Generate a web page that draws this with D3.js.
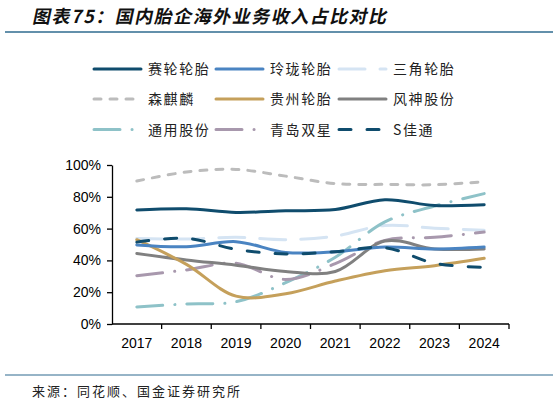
<!DOCTYPE html>
<html>
<head>
<meta charset="utf-8">
<script src="https://cdn.jsdelivr.net/npm/d3@7"></script>
<style>
  body { margin: 0; background: #fff; }
  svg { display: block; }
</style>
</head>
<body>
<div id="chart-area"></div>
<script>
const WIDTH = 559;
const HEIGHT = 403;

// data
const years = ["2017", "2018", "2019", "2020", "2021", "2022", "2023", "2024"];
const seriesNames = ["赛轮轮胎", "玲珑轮胎", "三角轮胎", "森麒麟", "贵州轮胎", "风神股份", "通用股份", "青岛双星", "S佳通"];
const sailun    = [0.717, 0.725, 0.702, 0.712, 0.72, 0.782, 0.745, 0.75];
const linglong  = [0.497, 0.486, 0.518, 0.45, 0.455, 0.484, 0.472, 0.484];
const sanjiao   = [0.538, 0.534, 0.545, 0.53, 0.553, 0.62, 0.602, 0.59];
const senqilin  = [0.899, 0.956, 0.972, 0.93, 0.883, 0.878, 0.876, 0.895];
const guizhou   = [0.53, 0.375, 0.175, 0.19, 0.27, 0.335, 0.367, 0.413];
const fengshen  = [0.444, 0.403, 0.37, 0.33, 0.33, 0.522, 0.472, 0.472];
const tongyong  = [0.107, 0.126, 0.14, 0.26, 0.42, 0.642, 0.742, 0.82];
const shuangxing = [0.304, 0.34, 0.382, 0.28, 0.38, 0.526, 0.545, 0.578];
const jiatong   = [0.515, 0.539, 0.47, 0.44, 0.455, 0.48, 0.382, 0.356];
const yTicks = [0, 0.2, 0.4, 0.6, 0.8, 1];

const seriesValues = [sailun, linglong, sanjiao, senqilin, guizhou, fengshen, tongyong, shuangxing, jiatong];
const seriesColors = ["#0f4c6d", "#4a84c2", "#d5e4f3", "#bcbcbc", "#c5a05b", "#808080", "#8ec2c8", "#a898ad", "#0f4c6d"];
const seriesDash = [null, null, "26,15", "7,9", null, null, "26,12,0.1,12", "26,12,0.1,12", "12,16"];

const series = seriesNames.map((name, i) => ({
    name: name,
    values: seriesValues[i],
    color: seriesColors[i],
    dash: seriesDash[i]
}));

const svg = d3.select("#chart-area").append("svg")
    .attr("width", WIDTH)
    .attr("height", HEIGHT)
    .attr("viewBox", [0, 0, WIDTH, HEIGHT]);

// title + rules
svg.append("text")
    .attr("x", 32)
    .attr("y", 23)
    .attr("transform", "skewX(-12) translate(5,0)")
    .attr("style", "font: bold 18px 'Noto Sans CJK SC'; letter-spacing: 1.5px;")
    .attr("fill", "#111")
    .text("图表75：国内胎企海外业务收入占比对比");

svg.append("line")
    .attr("x1", 5).attr("x2", 553)
    .attr("y1", 32).attr("y2", 32)
    .attr("stroke", "#2f6b8f")
    .attr("stroke-width", 1.6);

svg.append("line")
    .attr("x1", 5).attr("x2", 553)
    .attr("y1", 375).attr("y2", 375)
    .attr("stroke", "#2f6b8f")
    .attr("stroke-width", 1.2);

svg.append("text")
    .attr("x", 32)
    .attr("y", 396)
    .attr("style", "font: 13px 'Noto Sans CJK SC'; letter-spacing: 2px;")
    .attr("fill", "#222")
    .text("来源：同花顺、国金证券研究所");

// scales
const x = d3.scaleBand()
    .domain(years)
    .range([112, 509]);

const y = d3.scaleLinear()
    .domain([0, 1])
    .range([324, 165]);

const cx = d => x(d) + x.bandwidth() / 2;

// y axis
const yAxis = svg.append("g")
    .attr("transform", "translate(112,0)")
    .call(d3.axisLeft(y)
        .tickValues(yTicks)
        .tickFormat(d3.format(".0%"))
        .tickSize(5)
        .tickSizeOuter(0));
yAxis.select(".domain").attr("stroke", "#000").attr("stroke-width", 1.3);
yAxis.selectAll(".tick line").attr("stroke", "#000").attr("stroke-width", 1.3);
yAxis.selectAll(".tick text")
    .attr("x", -11)
    .attr("style", "font: 14px 'Liberation Sans', Arial, sans-serif;")
    .attr("fill", "#000");

// x axis: labels at band centres, ticks at band edges
const xAxis = svg.append("g")
    .attr("transform", "translate(0,324)");
xAxis.append("line")
    .attr("x1", x.range()[0]).attr("x2", x.range()[1])
    .attr("stroke", "#000").attr("stroke-width", 1.3);
xAxis.selectAll(".xtick")
    .data(years.map(d => x(d)).slice(1).concat([x.range()[1]]))
    .join("line")
    .attr("class", "xtick")
    .attr("x1", d => d).attr("x2", d => d)
    .attr("y1", 0).attr("y2", 5)
    .attr("stroke", "#000").attr("stroke-width", 1.3);
xAxis.selectAll(".xlabel")
    .data(years)
    .join("text")
    .attr("class", "xlabel")
    .attr("x", d => cx(d))
    .attr("y", 24)
    .attr("text-anchor", "middle")
    .attr("style", "font: 14px 'Liberation Sans', Arial, sans-serif;")
    .attr("fill", "#000")
    .text(d => d);

// lines
const line = d3.line()
    .x((d, i) => cx(years[i]))
    .y(d => y(d))
    .curve(d3.curveCatmullRom.alpha(0.5));

// draw order: light ones first, so dark solids sit on top
const drawOrder = [2, 3, 6, 7, 5, 4, 1, 8, 0];
svg.append("g")
    .selectAll("path")
    .data(drawOrder.map(i => series[i]))
    .join("path")
    .attr("d", d => line(d.values))
    .attr("fill", "none")
    .attr("stroke", d => d.color)
    .attr("stroke-width", 3)
    .attr("stroke-linecap", "round")
    .attr("stroke-dasharray", d => d.dash);

// legend, 3 columns x 3 rows
const legendCols = [93, 215, 338];
const legendRows = [69, 99, 129.5];
const legend = svg.append("g")
    .selectAll("g")
    .data(series)
    .join("g")
    .attr("transform", (d, i) => `translate(${legendCols[i % 3]},${legendRows[Math.floor(i / 3)]})`);

legend.append("line")
    .attr("x1", 1).attr("x2", 48)
    .attr("stroke", d => d.color)
    .attr("stroke-width", 3)
    .attr("stroke-linecap", "round")
    .attr("stroke-dasharray", d => d.dash);

legend.append("text")
    .attr("x", 55)
    .attr("dy", "0.36em")
    .attr("style", "font: 14px 'Noto Sans CJK SC'; letter-spacing: 1.6px;")
    .attr("fill", "#222")
    .text(d => d.name);
</script>
</body>
</html>
